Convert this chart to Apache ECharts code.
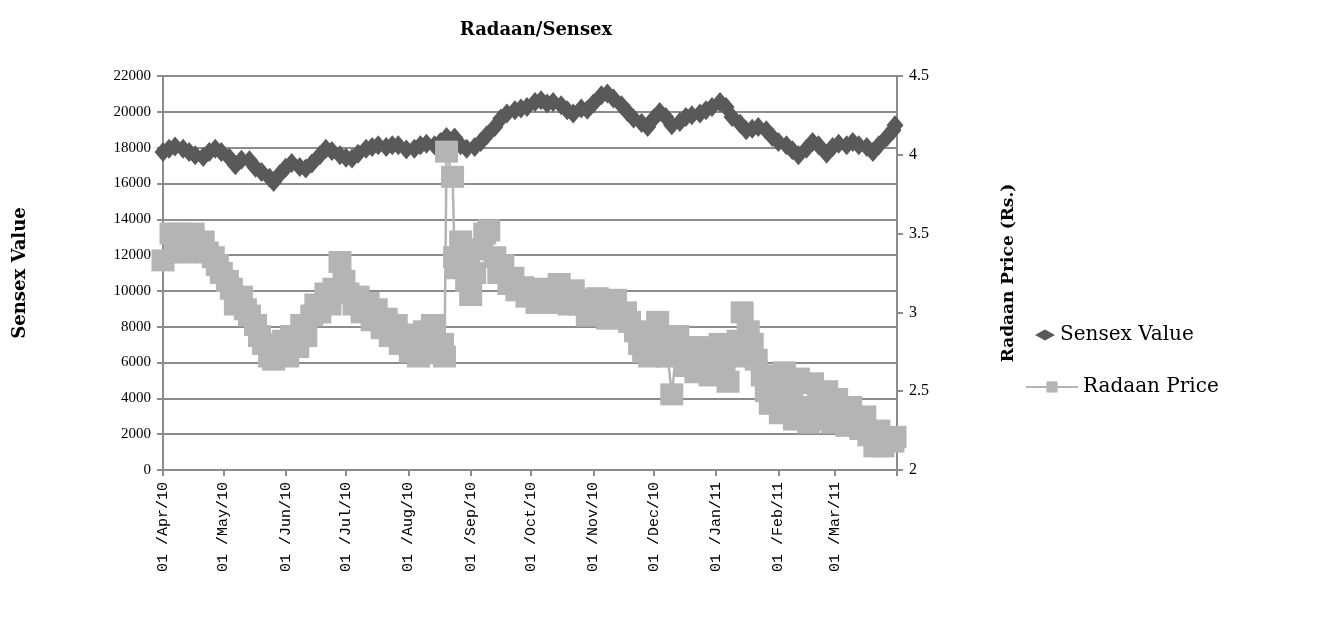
<!DOCTYPE html>
<html>
<head>
<meta charset="utf-8">
<script src="https://cdn.jsdelivr.net/npm/echarts@6/dist/echarts.min.js"></script>
<style>
  html, body { margin: 0; padding: 0; background: #fff; }
  #chart { width: 1328px; height: 635px; }
</style>
</head>
<body>
<div id="chart"></div>
<script>
// Sensex closing values
const sensexDates = ['2010-04-01','2010-04-04','2010-04-07','2010-04-11','2010-04-14','2010-04-17','2010-04-21','2010-04-24','2010-04-27','2010-04-30',
  '2010-05-04','2010-05-07','2010-05-10','2010-05-14','2010-05-17','2010-05-20','2010-05-24','2010-05-26','2010-05-29',
  '2010-06-01','2010-06-04','2010-06-08','2010-06-11','2010-06-14','2010-06-18','2010-06-21','2010-06-24','2010-06-28',
  '2010-07-01','2010-07-04','2010-07-07','2010-07-11','2010-07-14','2010-07-17','2010-07-21','2010-07-24','2010-07-27','2010-07-31',
  '2010-08-04','2010-08-07','2010-08-10','2010-08-14','2010-08-17','2010-08-20','2010-08-24','2010-08-27','2010-08-30',
  '2010-09-03','2010-09-06','2010-09-09','2010-09-13','2010-09-16','2010-09-19','2010-09-23','2010-09-26','2010-09-29',
  '2010-10-03','2010-10-06','2010-10-09','2010-10-12','2010-10-16','2010-10-19','2010-10-22','2010-10-26','2010-10-29',
  '2010-11-01','2010-11-05','2010-11-08','2010-11-11','2010-11-15','2010-11-18','2010-11-21','2010-11-25','2010-11-28',
  '2010-12-01','2010-12-04','2010-12-07','2010-12-10','2010-12-14','2010-12-17','2010-12-20','2010-12-24','2010-12-27','2010-12-30',
  '2011-01-03','2011-01-06','2011-01-09','2011-01-13','2011-01-16','2011-01-19','2011-01-22','2011-01-26','2011-01-29',
  '2011-02-01','2011-02-05','2011-02-08','2011-02-11','2011-02-15','2011-02-18','2011-02-21','2011-02-25','2011-02-28',
  '2011-03-03','2011-03-07','2011-03-10','2011-03-13','2011-03-17','2011-03-20','2011-03-23','2011-03-27','2011-03-30','2011-03-31'];
const sensexValues = [17760,17940,18070,17940,17760,17570,17480,17760,17940,17760,
  17440,17010,17330,17290,16880,16640,16320,16080,16510,
  16880,17140,16920,16830,17110,17570,17940,17810,17570,
  17440,17390,17660,17940,18040,18130,18040,18130,18130,17900,
  17940,18130,18220,18130,18320,18600,18560,18130,17940,
  18040,18320,18690,19150,19620,19900,20090,20180,20270,
  20550,20640,20460,20550,20370,20090,19900,20180,20120,
  20460,20920,21020,20740,20370,19990,19620,19380,19150,
  19620,19990,19710,19250,19430,19710,19810,19900,20090,20270,
  20550,20270,19710,19340,18970,19060,19150,18970,18600,
  18320,18130,17850,17570,17940,18320,18130,17660,18040,
  18220,18130,18320,18130,18040,17760,18130,18600,18970,19250];

// Radaan share price in Rs.
const radaanDates = ['2010-04-01','2010-04-05','2010-04-07','2010-04-09','2010-04-12','2010-04-14','2010-04-16','2010-04-19','2010-04-21','2010-04-23','2010-04-26','2010-04-28','2010-04-30',
  '2010-05-03','2010-05-05','2010-05-07','2010-05-10','2010-05-12','2010-05-14','2010-05-17','2010-05-19','2010-05-21','2010-05-24','2010-05-26','2010-05-28','2010-05-31',
  '2010-06-02','2010-06-04','2010-06-07','2010-06-09','2010-06-11','2010-06-14','2010-06-16','2010-06-18','2010-06-21','2010-06-23','2010-06-25','2010-06-28','2010-06-30',
  '2010-07-02','2010-07-05','2010-07-07','2010-07-09','2010-07-12','2010-07-14','2010-07-16','2010-07-19','2010-07-21','2010-07-23','2010-07-26','2010-07-28','2010-07-30',
  '2010-08-02','2010-08-04','2010-08-06','2010-08-09','2010-08-11','2010-08-13','2010-08-16','2010-08-18','2010-08-19','2010-08-20','2010-08-23','2010-08-24','2010-08-25','2010-08-27','2010-08-30','2010-08-31',
  '2010-09-01','2010-09-03','2010-09-06','2010-09-08','2010-09-10','2010-09-13','2010-09-15','2010-09-17','2010-09-20','2010-09-22','2010-09-24','2010-09-27','2010-09-29',
  '2010-10-01','2010-10-04','2010-10-06','2010-10-08','2010-10-11','2010-10-13','2010-10-15','2010-10-18','2010-10-20','2010-10-22','2010-10-25','2010-10-27','2010-10-29',
  '2010-11-01','2010-11-03','2010-11-05','2010-11-08','2010-11-10','2010-11-12','2010-11-15','2010-11-17','2010-11-19','2010-11-22','2010-11-24','2010-11-26','2010-11-29',
  '2010-12-01','2010-12-03','2010-12-06','2010-12-08','2010-12-10','2010-12-13','2010-12-15','2010-12-17','2010-12-20','2010-12-22','2010-12-24','2010-12-27','2010-12-29','2010-12-31',
  '2011-01-03','2011-01-05','2011-01-07','2011-01-10','2011-01-12','2011-01-14','2011-01-17','2011-01-19','2011-01-21','2011-01-24','2011-01-26','2011-01-28','2011-01-31',
  '2011-02-02','2011-02-04','2011-02-07','2011-02-09','2011-02-11','2011-02-14','2011-02-16','2011-02-18','2011-02-21','2011-02-23','2011-02-25','2011-02-28',
  '2011-03-02','2011-03-04','2011-03-07','2011-03-09','2011-03-11','2011-03-14','2011-03-16','2011-03-18','2011-03-21','2011-03-23','2011-03-25','2011-03-28','2011-03-30','2011-03-31'];
const radaanPrices = [3.33,3.50,3.42,3.50,3.38,3.48,3.50,3.40,3.45,3.38,3.35,3.30,3.25,
  3.20,3.15,3.05,3.10,3.02,2.98,2.92,2.85,2.80,2.72,2.70,2.75,2.82,
  2.72,2.85,2.78,2.92,2.85,2.98,3.05,3.00,3.12,3.05,3.15,3.32,3.20,
  3.12,3.05,3.10,3.00,3.06,2.95,3.02,2.90,2.96,2.85,2.92,2.80,2.86,
  2.75,2.85,2.72,2.88,2.78,2.92,2.74,2.80,2.72,4.02,3.86,3.35,3.28,3.45,3.20,3.38,
  3.11,3.25,3.40,3.50,3.52,3.35,3.25,3.30,3.18,3.22,3.14,3.16,3.10,
  3.12,3.06,3.10,3.15,3.06,3.12,3.18,3.10,3.05,3.14,3.05,3.08,2.98,
  3.05,3.09,3.02,2.96,3.05,3.08,2.98,3.00,2.94,2.88,2.80,2.75,2.72,
  2.80,2.94,2.85,2.72,2.48,2.85,2.78,2.66,2.72,2.62,2.78,2.70,2.60,2.75,
  2.80,2.68,2.56,2.72,2.82,3.00,2.88,2.80,2.70,2.60,2.50,2.42,2.55,
  2.36,2.62,2.45,2.32,2.58,2.40,2.30,2.55,2.42,2.32,2.50,2.30,
  2.45,2.35,2.28,2.40,2.32,2.26,2.34,2.22,2.15,2.25,2.15,2.20,2.18,2.21];

// month ticks on the date axis
const tickDates = ['2010-04-01','2010-05-01','2010-06-01','2010-07-01','2010-08-01','2010-09-01','2010-10-01','2010-11-01','2010-12-01','2011-01-01','2011-02-01','2011-03-01','2011-04-01'];
const tickLabels = ['01 /Apr/10','01 /May/10','01 /Jun/10','01 /Jul/10','01 /Aug/10','01 /Sep/10','01 /Oct/10','01 /Nov/10','01 /Dec/10','01 /Jan/11','01 /Feb/11','01 /Mar/11',''];

// day number counted from the first tick, so the x axis is a plain value axis
const DAY = 24 * 3600 * 1000;
function toDay(s) {
  const p = s.split('-');
  return Math.round((Date.UTC(+p[0], +p[1] - 1, +p[2]) - Date.UTC(2010, 3, 1)) / DAY);
}

const tickDays = tickDates.map(toDay);
const sensexData = sensexDates.map((d, i) => [toDay(d), sensexValues[i]]);
const radaanData = radaanDates.map((d, i) => [toDay(d), radaanPrices[i]]);

const serif = 'Liberation Serif';
const wideSerif = 'DejaVu Serif';
const gridGray = '#8c8c8c';

const chart = echarts.init(document.getElementById('chart'), null, { renderer: 'canvas' });
chart.setOption({
  animation: false,
  backgroundColor: '#fff',
  title: {
    text: 'Radaan/Sensex',
    left: 531,
    top: 16,
    textAlign: 'center',
    textStyle: { fontFamily: wideSerif, fontWeight: 'bold', fontSize: 18, color: '#000' }
  },
  legend: [{
    left: 1030,
    top: 320,
    itemWidth: 20,
    itemHeight: 11,
    itemGap: 6,
    data: ['Sensex Value'],
    textStyle: { fontFamily: wideSerif, fontSize: 20, color: '#000' }
  }, {
    left: 1020,
    top: 372,
    itemWidth: 52,
    itemHeight: 14,
    itemGap: 4,
    data: ['Radaan Price'],
    textStyle: { fontFamily: wideSerif, fontSize: 20, color: '#000' }
  }],
  grid: { left: 163, right: 431, top: 76, bottom: 165 },
  xAxis: {
    type: 'value',
    min: tickDays[0],
    max: tickDays[tickDays.length - 1],
    axisLine: { onZero: false, lineStyle: { color: gridGray, width: 2 } },
    axisTick: { show: true, length: 6, customValues: tickDays, lineStyle: { color: gridGray, width: 2 } },
    axisLabel: {
      customValues: tickDays.slice(0, -1),
      rotate: 90,
      margin: 12,
      fontFamily: 'Liberation Mono',
      fontSize: 15,
      color: '#000',
      formatter: function (v) {
        const i = tickDays.indexOf(v);
        return i >= 0 ? tickLabels[i] : '';
      }
    },
    splitLine: { show: false }
  },
  yAxis: [{
    type: 'value',
    min: 0,
    max: 22000,
    interval: 2000,
    name: 'Sensex Value',
    nameLocation: 'middle',
    nameGap: 134,
    nameRotate: 90,
    nameTextStyle: { fontFamily: wideSerif, fontWeight: 'bold', fontSize: 18, color: '#000' },
    axisLine: { show: true, lineStyle: { color: gridGray, width: 2 } },
    axisTick: { show: true, length: 6, lineStyle: { color: gridGray, width: 2 } },
    axisLabel: { margin: 12, fontFamily: serif, fontSize: 15, color: '#000', formatter: v => String(v) },
    splitLine: { lineStyle: { color: gridGray, width: 2 } }
  }, {
    type: 'value',
    min: 2,
    max: 4.5,
    interval: 0.5,
    position: 'right',
    name: 'Radaan Price (Rs.)',
    nameLocation: 'middle',
    nameGap: 103,
    nameRotate: 90,
    nameTextStyle: { fontFamily: wideSerif, fontWeight: 'bold', fontSize: 17, color: '#000' },
    axisLine: { show: true, lineStyle: { color: gridGray, width: 2 } },
    axisTick: { show: true, length: 6, lineStyle: { color: gridGray, width: 2 } },
    axisLabel: { margin: 12, fontFamily: serif, fontSize: 16, color: '#000' },
    splitLine: { show: false }
  }],
  series: [{
    name: 'Sensex Value',
    type: 'scatter',
    yAxisIndex: 0,
    symbol: 'diamond',
    symbolSize: [17, 20],
    itemStyle: { color: '#595959', opacity: 1 },
    data: sensexData
  }, {
    name: 'Radaan Price',
    type: 'line',
    yAxisIndex: 1,
    symbol: 'rect',
    symbolSize: [23, 22],
    showAllSymbol: true,
    itemStyle: { color: '#b4b4b4' },
    lineStyle: { color: '#b4b4b4', width: 2.5 },
    data: radaanData
  }]
});
</script>
</body>
</html>
